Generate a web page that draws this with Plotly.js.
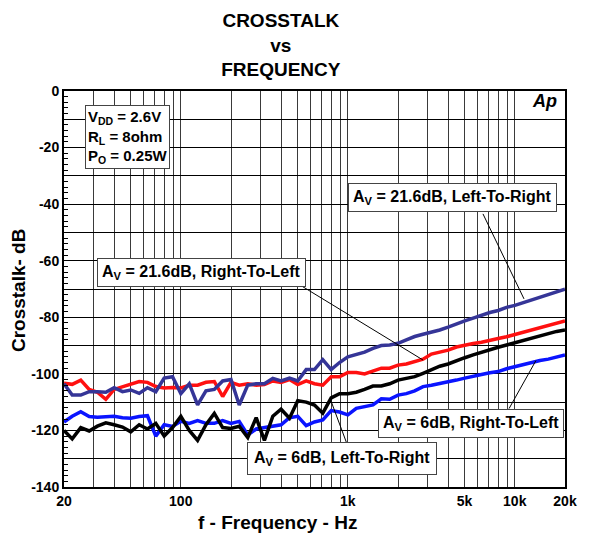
<!DOCTYPE html>
<html>
<head>
<meta charset="utf-8">
<script src="https://cdn.plot.ly/plotly-3.0.1.min.js"></script>
<style>html,body{margin:0;padding:0;background:#fff;}#chart{width:590px;height:536px;}</style>
</head>
<body>
<div id="chart"></div>
<script>
// Frequency points (Hz)
var freq = [20, 22.4, 25.2, 28.3, 31.7, 35.6, 39.9, 44.8, 50.2, 56.4,
  63.2, 70.9, 79.6, 89.3, 100.2, 112.5, 126.2, 141.6, 158.9, 178.3,
  200, 224, 252, 283, 317, 356, 399, 448, 502, 564,
  632, 709, 796, 893, 1002, 1125, 1262, 1416, 1589, 1783,
  2000, 2244, 2518, 2825, 3170, 3557, 3991, 4477, 5024, 5637,
  6325, 7096, 7962, 8934, 10024, 11247, 12619, 14159, 15887, 17825, 20000];

// Av = 21.6 dB, Left-To-Right (navy)
var navyL2R = [-103.5, -107.5, -107.5, -106.3, -106.3, -106.5, -104.9, -106.3, -105.7, -106.9,
  -104.9, -106.3, -101.5, -101, -107, -103.5, -111, -106, -105.5, -102.5,
  -102, -111, -104, -103.5, -103.5, -101.6, -102.5, -101.5, -102.5, -98.5,
  -98.5, -95, -98.5, -96, -94, -93.3, -92.3, -91, -90, -89.8,
  -89.2, -88, -86.8, -86, -85.3, -84.5, -83.5, -82.3, -81.3, -80.3,
  -79.2, -78.3, -77.6, -76.5, -75.8, -74.8, -73.9, -73.1, -72.1, -71.1, -70.1];

// Av = 21.6 dB, Right-To-Left (red)
var redR2L = [-103.3, -103.7, -102.2, -105.5, -106.5, -109, -105.5, -104.5, -103.5, -102.7,
  -103, -104.5, -105, -104.8, -105, -104, -104, -103, -102.7, -108,
  -103, -104, -103.5, -104, -103.8, -102.5, -103, -102, -103.8, -102.5,
  -103.5, -104, -101, -101, -99.5, -99.5, -100, -99, -98, -98,
  -96.9, -96.5, -95.7, -94.8, -93, -92.3, -91.6, -90.5, -89.8, -89.3,
  -88.8, -88.3, -87.5, -86.9, -86.1, -85.3, -84.6, -83.9, -83, -82.1, -81.3];

// Av = 6 dB, Left-To-Right (black)
var blackL2R = [-120, -123, -119, -120.2, -118.5, -117.3, -118, -118.8, -120.5, -118,
  -119.5, -117.5, -122, -119, -115, -120, -123.5, -118, -114, -119,
  -119.3, -118.5, -122.5, -115.5, -123.5, -115, -112.5, -115.7, -109.5, -110,
  -111, -113.9, -108.5, -107, -107, -106.5, -105.5, -104.3, -104.3, -103.5,
  -102.2, -101.5, -101, -99.8, -98.6, -97.3, -96.5, -95.3, -94.3, -93.3,
  -92.3, -91.3, -90.6, -89.8, -89, -88.2, -87.3, -86.5, -85.8, -85, -84.5];

// Av = 6 dB, Right-To-Left (blue)
var blueR2L = [-117, -115, -113.4, -115.1, -115.3, -115.2, -115, -115.5, -115.7, -115.1,
  -114.8, -122, -118, -118.6, -116.8, -117.5, -116.5, -117.5, -117.5, -116.5,
  -117.5, -116.8, -121.6, -119.5, -119, -118.5, -118, -115.5, -115, -118.3,
  -117, -116.3, -113, -113.5, -114.5, -112.2, -111.5, -111, -108.8, -109,
  -107.5, -107, -106, -104.5, -104, -103.5, -103, -102.2, -101.5, -101,
  -100.2, -99.6, -99.2, -98.2, -97.4, -96.8, -95.9, -95.3, -94.8, -94, -93.3];

// Axis ticks
var xTickVals = [20, 100, 1000, 5000, 10000, 20000];
var xTickText = ['20', '100', '1k', '5k', '10k', '20k'];
var xMinorGrid = [30, 40, 50, 60, 70, 80, 90, 200, 300, 400, 500, 600, 700, 800, 900,
  2000, 3000, 4000, 6000, 7000, 8000, 9000];
var yTickVals = [-140, -120, -100, -80, -60, -40, -20, 0];
var yTickText = ['-140', '-120', '-100', '-80', '-60', '-40', '-20', '0'];
var yGridStep = 10;
var yMinorStep = 2;

var FONT = 'Liberation Sans, Arial, sans-serif';

function mk(y, color, name, yax) {
  return {x: freq, y: y, type: 'scatter', mode: 'lines', name: name, yaxis: yax || 'y',
    line: {color: color, width: 3.5}, hoverinfo: 'skip'};
}
var data = [
  mk(blueR2L, '#0a14ff', 'Av=6dB, Right-To-Left'),
  mk(blackL2R, '#000000', 'Av=6dB, Left-To-Right'),
  mk(redR2L, '#ff1010', 'Av=21.6dB, Right-To-Left'),
  mk(navyL2R, '#353597', 'Av=21.6dB, Left-To-Right', 'y2')
];

function lg(v) { return Math.log10(v); }

var boxStyle = {showarrow: false, xref: 'paper', yref: 'paper', bgcolor: '#ffffff',
  bordercolor: '#444', borderwidth: 1, borderpad: 4,
  font: {family: FONT, size: 16, color: '#000'}};
function box(txt, x, y, extra) {
  var a = Object.assign({}, boxStyle, {text: txt, x: x, y: y, xanchor: 'center', yanchor: 'middle'});
  return Object.assign(a, extra || {});
}
function leader(f, db, ax, ay) {
  return {x: lg(f), y: db, xref: 'x', yref: 'y', text: ' ', font: {size: 1},
    showarrow: true, arrowhead: 0, arrowwidth: 1, arrowcolor: '#000', ax: ax, ay: ay, standoff: 0, startstandoff: 0};
}

var annotations = [
  leader(11365, -73.5, -42, -87),
  leader(2822, -95.1, -123, -75),
  leader(13400, -95.3, -28, 50),
  leader(794, -109.6, 16, 43),
  box('<b>A<sub>V</sub> = 21.6dB, Left-To-Right</b>', 0.7745, 0.7323),
  box('<b>A<sub>V</sub> = 21.6dB, Right-To-Left</b>', 0.2754, 0.5429),
  box('<b>A<sub>V</sub> = 6dB, Right-To-Left</b>', 0.8124, 0.1591),
  box('<b>A<sub>V</sub> = 6dB, Left-To-Right</b>', 0.5549, 0.0732, {borderpad: 6}),
  box('<b>V<sub>DD</sub> = 2.6V<br>R<sub>L</sub> = 8ohm<br>P<sub>O</sub> = 0.25W</b>', 0.042, 0.885,
    {xanchor: 'left', align: 'left', font: {family: FONT, size: 15, color: '#000'}, borderpad: 2}),
  {text: '<b><i>Ap</i></b>', xref: 'paper', yref: 'paper', x: 0.96, y: 0.975, xanchor: 'center', yanchor: 'middle',
    showarrow: false, font: {family: FONT, size: 18, color: '#000'}},
  {text: '<b>f - Frequency - Hz</b>', xref: 'paper', yref: 'paper', x: 0.427, y: -0.0884,
    xanchor: 'center', yanchor: 'middle', showarrow: false, font: {family: FONT, size: 19, color: '#000'}},
  {text: '<b>Crosstalk- dB</b>', xref: 'paper', yref: 'paper', x: -0.092, y: 0.497, textangle: -90,
    xanchor: 'center', yanchor: 'middle', showarrow: false, font: {family: FONT, size: 19, color: '#000'}}
];

var layout = {
  width: 590, height: 536,
  margin: {l: 64, r: 25, t: 91, b: 49},
  paper_bgcolor: '#ffffff', plot_bgcolor: '#ffffff',
  showlegend: false,
  title: {text: '<b>CROSSTALK</b><br><b>vs</b><br><b>FREQUENCY</b>',
    font: {family: FONT, size: 19, color: '#000'},
    xref: 'container', x: 0.476, xanchor: 'center', yref: 'container', y: 0.95, yanchor: 'middle'},
  xaxis: {
    type: 'log', range: [lg(20), lg(20000)],
    tickmode: 'array', tickvals: xTickVals,
    ticktext: xTickText.map(function (t) { return '<b>' + t + '</b>'; }),
    tickfont: {family: FONT, size: 14, color: '#000'},
    ticks: '', showgrid: true, gridcolor: '#3a3a3a', gridwidth: 1,
    minor: {tickmode: 'array', tickvals: xMinorGrid, ticks: '', showgrid: true, gridcolor: '#3a3a3a', gridwidth: 1},
    showline: true, mirror: true, linecolor: '#000', linewidth: 2, zeroline: false
  },
  yaxis: {
    range: [-140, 0],
    tickmode: 'array', tickvals: yTickVals,
    ticktext: yTickText.map(function (t) { return '<b>' + t + '</b>'; }),
    tickfont: {family: FONT, size: 14, color: '#000'},
    ticks: 'inside', ticklen: 5, tickcolor: '#000',
    minor: {tickmode: 'linear', tick0: 0, dtick: yMinorStep, ticks: 'inside', ticklen: 4, tickcolor: '#000', showgrid: false},
    showgrid: true, gridcolor: '#000', gridwidth: 1,
    showline: true, mirror: true, linecolor: '#000', linewidth: 2, zeroline: false
  },
  yaxis2: {
    range: [-140, 0], overlaying: 'y', side: 'left',
    tickmode: 'linear', tick0: 0, dtick: yGridStep, showticklabels: false, ticks: '',
    showgrid: true, gridcolor: '#000', gridwidth: 1, zeroline: false, showline: false
  },
  annotations: annotations
};

Plotly.newPlot('chart', data, layout, {staticPlot: true, displayModeBar: false});
</script>
</body>
</html>
